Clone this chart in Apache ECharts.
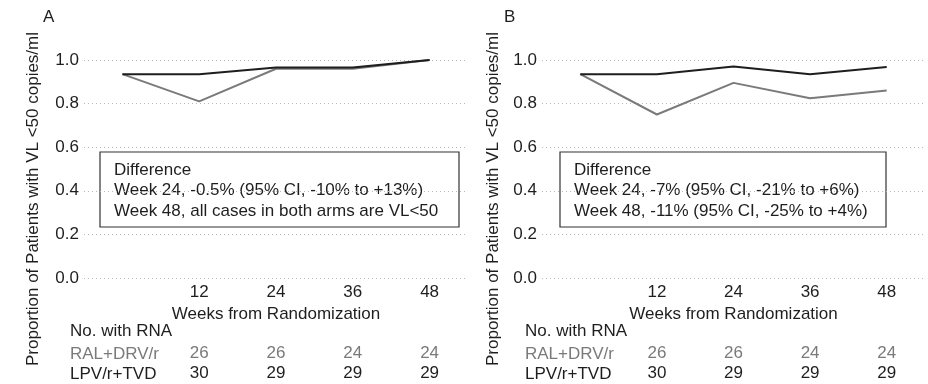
<!DOCTYPE html>
<html>
<head>
<meta charset="utf-8">
<script src="https://cdn.jsdelivr.net/npm/echarts@6/dist/echarts.min.js"></script>
<style>
html,body{margin:0;padding:0;background:#fff;}
#chart{width:928px;height:384px;}
</style>
</head>
<body>
<div id="chart"></div>
<script>
// ---- data ----
var weeks = [0, 12, 24, 36, 48];
var xTickLabels = [12, 24, 36, 48];
var yTicks = [0, 0.2, 0.4, 0.6, 0.8, 1.0];

var panelA_RAL = [0.935, 0.81, 0.96, 0.96, 1.0];
var panelA_LPV = [0.935, 0.935, 0.966, 0.966, 1.0];
var panelB_RAL = [0.935, 0.75, 0.895, 0.825, 0.86];
var panelB_LPV = [0.935, 0.935, 0.97, 0.935, 0.968];

var countWeeks = [12, 24, 36, 48];
var countRAL = [26, 26, 24, 24];
var countLPV = [30, 29, 29, 29];

var armNames = ['RAL+DRV/r', 'LPV/r+TVD'];
var panelLabels = ['A', 'B'];
var yTitle = 'Proportion of Patients with VL <50 copies/ml';
var xTitle = 'Weeks from Randomization';
var tableTitle = 'No. with RNA';
var boxTextA = ['Difference', 'Week 24, -0.5% (95% CI, -10% to +13%)', 'Week 48, all cases in both arms are VL<50'];
var boxTextB = ['Difference', 'Week 24, -7% (95% CI, -21% to +6%)', 'Week 48, -11% (95% CI, -25% to +4%)'];

// ---- styling ----
var FONT = '"Liberation Sans", Arial, sans-serif';
var FS = 17;
var GREY = '#7a7a7a';
var DARK = '#1e1e1e';
var gridTop = 60, gridH = 218, gridW = 384;
var gridLefts = [84, 542];

function pair(ws, vs) { return ws.map(function (w, i) { return [w, vs[i]]; }); }

var grids = gridLefts.map(function (l) { return { left: l, top: gridTop, width: gridW, height: gridH }; });

var xAxes = [], yAxes = [], series = [];
gridLefts.forEach(function (l, gi) {
  xAxes.push({
    gridIndex: gi, type: 'value', min: -6, max: 54, interval: 6,
    axisLine: { show: false }, axisTick: { show: false }, splitLine: { show: false },
    axisLabel: {
      margin: 6, fontFamily: FONT, fontSize: FS, color: DARK,
      formatter: function (v) { return xTickLabels.indexOf(v) >= 0 ? String(v) : ''; }
    },
    name: xTitle, nameLocation: 'middle', nameGap: 28,
    nameTextStyle: { fontFamily: FONT, fontSize: FS, color: DARK }
  });
  [countRAL, countLPV].forEach(function (arr, ri) {
    xAxes.push({
      gridIndex: gi, type: 'value', min: -6, max: 54, interval: 6, position: 'bottom',
      axisLine: { show: false }, axisTick: { show: false }, splitLine: { show: false },
      axisLabel: {
        margin: ri === 0 ? 67 : 87, fontFamily: FONT, fontSize: FS, color: ri === 0 ? GREY : DARK,
        formatter: function (v) { var k = countWeeks.indexOf(v); return k >= 0 ? String(arr[k]) : ''; }
      }
    });
  });
  yAxes.push({
    gridIndex: gi, type: 'value', min: 0, max: 1, interval: 0.2,
    axisLine: { show: false }, axisTick: { show: false },
    axisLabel: { margin: 5, fontFamily: FONT, fontSize: FS, color: DARK, formatter: function (v) { return v.toFixed(1); } },
    splitLine: { show: true, lineStyle: { color: '#b8b8b8', type: [1, 3], width: 1 } }
  });
});

var data = [[panelA_RAL, panelA_LPV], [panelB_RAL, panelB_LPV]];
data.forEach(function (d, gi) {
  series.push({
    type: 'line', xAxisIndex: gi * 3, yAxisIndex: gi, data: pair(weeks, d[0]),
    symbol: 'none', lineStyle: { color: GREY, width: 2 }, z: 3, animation: false
  });
  series.push({
    type: 'line', xAxisIndex: gi * 3, yAxisIndex: gi, data: pair(weeks, d[1]),
    symbol: 'none', lineStyle: { color: DARK, width: 2 }, z: 4, animation: false
  });
});

function boxGroup(x, w, lines) {
  var children = [{
    type: 'rect', shape: { x: 0, y: 0, width: w, height: 75 },
    style: { fill: '#fff', stroke: '#333', lineWidth: 1.2 }
  }];
  lines.forEach(function (t, i) {
    children.push({
      type: 'text', x: 14, y: 18 + i * 20.5,
      style: { text: t, font: FS + 'px ' + FONT, fill: DARK, textVerticalAlign: 'middle' }
    });
  });
  return { type: 'group', x: x, y: 152, z: 10, children: children };
}

var graphics = [];
var pos = [
  { label: 43, ytitle: 33, table: 70 },
  { label: 504, ytitle: 493, table: 525 }
];
pos.forEach(function (p, pi) {
  graphics.push({ type: 'text', x: p.label, y: 17, style: { text: panelLabels[pi], font: FS + 'px ' + FONT, fill: DARK, textVerticalAlign: 'middle' } });
  graphics.push({ type: 'text', x: p.ytitle, y: 199, rotation: Math.PI / 2,
    style: { text: yTitle, font: FS + 'px ' + FONT, fill: DARK, textAlign: 'center', textVerticalAlign: 'middle' } });
  graphics.push({ type: 'text', x: p.table, y: 331, style: { text: tableTitle, font: FS + 'px ' + FONT, fill: DARK, textVerticalAlign: 'middle' } });
  graphics.push({ type: 'text', x: p.table, y: 354, style: { text: armNames[0], font: FS + 'px ' + FONT, fill: GREY, textVerticalAlign: 'middle' } });
  graphics.push({ type: 'text', x: p.table, y: 374, style: { text: armNames[1], font: FS + 'px ' + FONT, fill: DARK, textVerticalAlign: 'middle' } });
});
graphics.push(boxGroup(100, 359, boxTextA));
graphics.push(boxGroup(560, 326, boxTextB));

var chart = echarts.init(document.getElementById('chart'), null, { renderer: 'canvas' });
chart.setOption({
  animation: false,
  backgroundColor: '#fff',
  grid: grids,
  xAxis: xAxes,
  yAxis: yAxes,
  series: series,
  graphic: graphics
});
</script>
</body>
</html>
